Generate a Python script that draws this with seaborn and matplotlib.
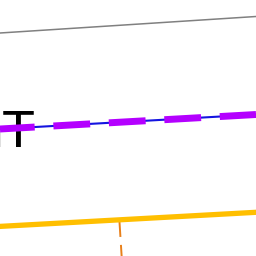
import matplotlib
matplotlib.use("Agg")
import matplotlib.pyplot as plt
import seaborn as sns

# series values (0..256 scale, y grows downward)
x_ends = [0, 256]
gray_vals = [33.0, 16.5]
purple_vals = [129.0, 114.5]
blue_vals = [129.0, 114.5]
gold_vals = [226.4, 212.3]

# dashed marker line below the gold series
marker_x = [119.5, 122.0]
marker_y = [222.0, 262.0]

label_text = "nT"

sns.set_theme(style="white")

fig = plt.figure(figsize=(2.56, 2.56), dpi=100)
ax = fig.add_axes([0, 0, 1, 1])

sns.lineplot(x=x_ends, y=gray_vals, ax=ax, color="#808080", linewidth=1.1, sort=False)

ax.text(34.5, 147, label_text, ha="right", va="baseline", fontsize=35.6,
        color="black", family="DejaVu Sans", zorder=1)

sns.lineplot(x=marker_x, y=marker_y, ax=ax, color="#e8801a", linewidth=1.4,
             linestyle=(0, (7.7, 4.1)), sort=False)
sns.lineplot(x=x_ends, y=gold_vals, ax=ax, color="#ffbf00", linewidth=3.8, sort=False)

sns.lineplot(x=x_ends, y=blue_vals, ax=ax, color="#1414e0", linewidth=1.5, sort=False)
sns.lineplot(x=x_ends, y=purple_vals, ax=ax, color="#b400ff", linewidth=5.0,
             linestyle=(0.3, (5.3, 2.7)), sort=False)

ax.set_xlim(0, 256)
ax.set_ylim(256, 0)
ax.axis("off")

fig.savefig("out.png", dpi=100)
